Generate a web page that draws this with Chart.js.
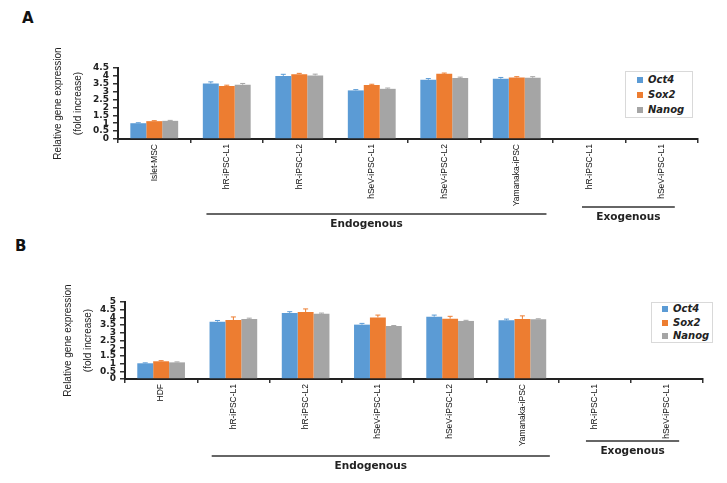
<!DOCTYPE html>
<html>
<head>
<meta charset="utf-8">
<script src="https://cdn.jsdelivr.net/npm/chart.js@4.4.0/dist/chart.umd.min.js"></script>
<style>
  body { margin: 0; background: #fff; }
  #wrap { position: relative; width: 727px; height: 483px; overflow: hidden; }
  canvas { position: absolute; left: 0; }
  #chartA { top: 0; }
  #chartB { top: 240px; }
  .panel { position: absolute; font: bold 15px "DejaVu Sans", sans-serif; color: #111; }
  .legend { position: absolute; border: 1px solid #d9d9d9; background: #fff;
    font: bold oblique 10px "DejaVu Sans", sans-serif; color: #222; }
  .legend div { position: absolute; left: 22px; white-space: nowrap; line-height: 12px; }
  .legend span { position: absolute; left: -11px; top: 3px; width: 6px; height: 6px; }
</style>
</head>
<body>
<div id="wrap">
  <div class="panel" style="left:22px;top:9px;">A</div>
  <div class="panel" style="left:15px;top:237px;">B</div>
  <canvas id="chartA" width="727" height="240"></canvas>
  <canvas id="chartB" width="727" height="243"></canvas>
  <div class="legend" id="legendA" style="left:625px;top:71px;width:66px;height:45px;"></div>
  <div class="legend" id="legendB" style="left:651px;top:302px;width:60px;height:39px;"></div>
</div>
<script>
// ================== data ======================
const genes = ["Oct4", "Sox2", "Nanog"];
const geneColors = ["#5B9BD5", "#ED7D31", "#A5A5A5"];

const categoriesA = ["Islet-MSC", "hR-iPSC-L1", "hR-iPSC-L2", "hSeV-iPSC-L1", "hSeV-iPSC-L2", "Yamanaka-iPSC", "hR-iPSC-L1", "hSeV-iPSC-L1"];
const oct4A = [1.0, 3.52, 4.0, 3.08, 3.75, 3.82, 0, 0];
const sox2A = [1.13, 3.36, 4.11, 3.42, 4.13, 3.9, 0, 0];
const nanogA = [1.15, 3.44, 4.03, 3.18, 3.86, 3.88, 0, 0];
const oct4ErrA = [0.03, 0.1, 0.1, 0.05, 0.08, 0.08, 0, 0];
const sox2ErrA = [0.03, 0.05, 0.05, 0.05, 0.05, 0.05, 0, 0];
const nanogErrA = [0.03, 0.08, 0.08, 0.05, 0.06, 0.07, 0, 0];

const categoriesB = ["HDF", "hR-iPSC-L1", "hR-iPSC-L2", "hSeV-iPSC-L1", "hSeV-iPSC-L2", "Yamanaka-iPSC", "hR-iPSC-L1", "hSeV-iPSC-L1"];
const oct4B = [1.02, 3.72, 4.29, 3.53, 4.05, 3.81, 0, 0];
const sox2B = [1.15, 3.83, 4.35, 4.0, 3.92, 3.9, 0, 0];
const nanogB = [1.08, 3.9, 4.24, 3.44, 3.77, 3.88, 0, 0];
const oct4ErrB = [0.03, 0.08, 0.08, 0.08, 0.1, 0.08, 0, 0];
const sox2ErrB = [0.04, 0.2, 0.2, 0.15, 0.15, 0.2, 0, 0];
const nanogErrB = [0.03, 0.05, 0.04, 0.03, 0.04, 0.03, 0, 0];

// category groups under the axis: [label, first index, last index]
const groups = [["Endogenous", 1, 5], ["Exogenous", 6, 7]];

const yTitle = ["Relative gene expression", "(fold increase)"];

// ================== plugins ======================
const errorBars = {
  id: "errorBars",
  afterDatasetsDraw(chart) {
    const ctx = chart.ctx;
    const y = chart.scales.y;
    chart.data.datasets.forEach((ds, i) => {
      const meta = chart.getDatasetMeta(i);
      meta.data.forEach((bar, j) => {
        const e = ds.errors[j];
        if (!e) return;
        const top = y.getPixelForValue(ds.data[j] + e);
        ctx.save();
        ctx.strokeStyle = ds.backgroundColor;
        ctx.lineWidth = 1;
        ctx.beginPath();
        ctx.moveTo(bar.x, bar.y);
        ctx.lineTo(bar.x, top);
        ctx.moveTo(bar.x - 2.5, top);
        ctx.lineTo(bar.x + 2.5, top);
        ctx.stroke();
        ctx.restore();
      });
    });
  },
};

const groupLines = {
  id: "groupLines",
  afterDraw(chart, args, opts) {
    const ctx = chart.ctx;
    const x = chart.scales.x;
    const step = x.getPixelForValue(1) - x.getPixelForValue(0);
    opts.items.forEach((it, k) => {
      const [label, from, to] = groups[k];
      const x0 = x.getPixelForValue(from) + it.padL * step;
      const x1 = x.getPixelForValue(to) + it.padR * step;
      ctx.save();
      ctx.strokeStyle = "#333";
      ctx.lineWidth = 1.5;
      ctx.beginPath();
      ctx.moveTo(x0, it.y);
      ctx.lineTo(x1, it.y);
      ctx.stroke();
      ctx.fillStyle = "#222";
      ctx.font = 'bold 10.5px "DejaVu Sans"';
      ctx.textAlign = "center";
      ctx.textBaseline = "middle";
      ctx.fillText(label, (x0 + x1) / 2 + it.shift, it.y + 10);
      ctx.restore();
    });
  },
};

// ================== chart builder ======================
function makeChart(canvas, labels, series, errs, cfg) {
  return new Chart(canvas, {
    type: "bar",
    data: {
      labels: labels,
      datasets: series.map((d, i) => ({
        label: genes[i],
        data: d,
        errors: errs[i],
        backgroundColor: geneColors[i],
        borderWidth: 0,
        categoryPercentage: 0.66,
        barPercentage: 1.0,
      })),
    },
    options: {
      responsive: false,
      animation: false,
      layout: { padding: { left: cfg.padLeft, top: cfg.padTop, right: cfg.padRight, bottom: 0 } },
      plugins: {
        legend: { display: false },
        tooltip: { enabled: false },
        groupLines: { items: cfg.groupItems },
      },
      scales: {
        x: {
          grid: { offset: true, drawOnChartArea: false, tickLength: 4, color: "#333", lineWidth: 1.5 },
          border: { color: "#222", width: 2 },
          ticks: {
            autoSkip: false,
            minRotation: 90,
            maxRotation: 90,
            padding: 1,
            color: "#111",
            font: { family: "Liberation Sans", size: 8.5 },
          },
          afterFit(scale) { scale.height = cfg.xHeight; },
        },
        y: {
          min: 0,
          max: cfg.yMax,
          grid: { drawOnChartArea: false, tickLength: 5, color: "#333", lineWidth: 1.5 },
          border: { color: "#222", width: 2 },
          ticks: {
            stepSize: 0.5,
            autoSkip: false,
            padding: 4,
            color: "#222",
            font: { family: "DejaVu Sans", size: 9, weight: "bold", lineHeight: 1 },
            callback: (v) => String(+v.toFixed(1)),
          },
          title: {
            display: true,
            text: yTitle,
            color: "#222",
            padding: { top: 4, bottom: 0 },
            font: { family: "Liberation Sans", size: 10, lineHeight: 2 },
          },
          afterFit(scale) { scale.width = cfg.yWidth; },
        },
      },
    },
    plugins: [errorBars, groupLines],
  });
}

makeChart(document.getElementById("chartA"), categoriesA,
  [oct4A, sox2A, nanogA], [oct4ErrA, sox2ErrA, nanogErrA], {
    padLeft: 44, padTop: 68, padRight: 29, yWidth: 74, xHeight: 101, yMax: 4.5,
    groupItems: [
      { y: 214, padL: -0.28, padR: 0.41, shift: -10 },
      { y: 207, padL: -0.1, padR: 0.18, shift: 0 },
    ],
  });

makeChart(document.getElementById("chartB"), categoriesB,
  [oct4B, sox2B, nanogB], [oct4ErrB, sox2ErrB, nanogErrB], {
    padLeft: 54, padTop: 62, padRight: 24, yWidth: 71, xHeight: 104, yMax: 5,
    groupItems: [
      { y: 216, padL: -0.3, padR: 0.38, shift: -10 },
      { y: 201, padL: -0.12, padR: 0.17, shift: 0 },
    ],
  });

// ================== legends ======================
function buildLegend(el, rowTop, rowGap, textLeft) {
  genes.forEach((g, i) => {
    const row = document.createElement("div");
    row.style.top = rowTop + i * rowGap + "px";
    row.style.left = textLeft + "px";
    row.innerHTML = `<span style="background:${geneColors[i]}"></span>${g}`;
    el.appendChild(row);
  });
}
buildLegend(document.getElementById("legendA"), 2, 15, 22);
buildLegend(document.getElementById("legendB"), 0, 13.5, 21);
</script>
</body>
</html>
